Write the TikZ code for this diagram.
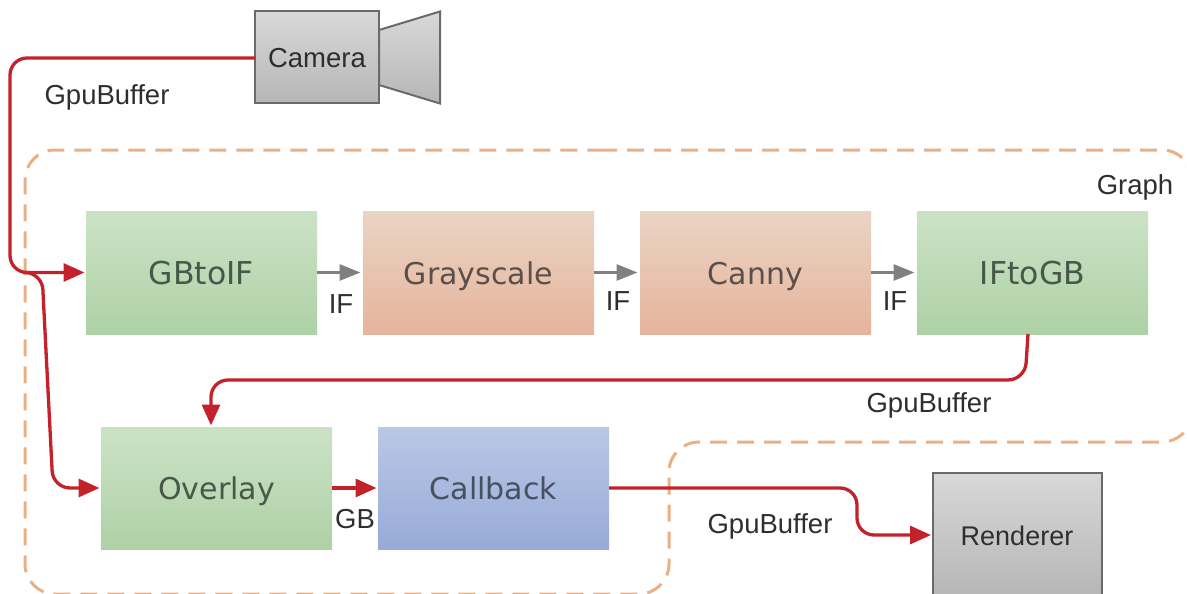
\documentclass[tikz,border=0pt]{standalone}
\usepackage{fontspec}
\usetikzlibrary{arrows.meta}
\setmainfont{Liberation Sans}
\newfontfamily\boxfont{DejaVu Sans}
\definecolor{redline}{HTML}{C4222B}
\definecolor{grayline}{HTML}{808080}
\definecolor{dashcol}{HTML}{E9B086}
\tikzset{
  x=1pt,y=-1pt,
  every node/.style={inner sep=0pt,outer sep=0pt},
  proc/.style={minimum width=231pt,minimum height=123pt,font=\boxfont\fontsize{30}{34}\selectfont,text height=23pt,text depth=0pt,anchor=center},
  greenbox/.style={proc,top color=green1,bottom color=green2,text=greentext},
  orangebox/.style={proc,top color=orange1,bottom color=orange2,text=orangetext},
  bluebox/.style={proc,top color=blue1,bottom color=blue2,text=bluetext},
  device/.style={draw=devborder,line width=2pt,top color=gray1,bottom color=gray2,text=black!82,text height=20pt,text depth=0pt},
  lab/.style={font=\fontsize{27.5}{30}\selectfont,text=black!82,text height=19pt,text depth=0pt},
  redarrow/.style={draw=redline,line width=3.3pt,rounded corners=17pt,-{Triangle[length=21pt,width=18pt]},shorten >=1.5pt},
  grayarrow/.style={draw=grayline,line width=3pt,-{Triangle[length=21pt,width=16pt]},shorten >=2.5pt},
  graphline/.style={draw=dashcol,line width=3pt,dash pattern=on 17pt off 10pt,rounded corners=30pt}
}
\definecolor{green1}{HTML}{CCE2C6}
\definecolor{green2}{HTML}{AED1A6}
\definecolor{orange1}{HTML}{EAD4C4}
\definecolor{orange2}{HTML}{E6B49C}
\definecolor{blue1}{HTML}{BAC8E6}
\definecolor{blue2}{HTML}{98AAD8}
\definecolor{gray1}{HTML}{D8D8D8}
\definecolor{gray2}{HTML}{B6B6B6}
\definecolor{devborder}{HTML}{6A6A6A}
\definecolor{greentext}{HTML}{47584A}
\definecolor{orangetext}{HTML}{5A4F4B}
\definecolor{bluetext}{HTML}{46505F}
\begin{document}
\begin{tikzpicture}
\useasboundingbox (0,0) rectangle (1187,594);
\clip (0,0) rectangle (1187,594);
% graph outline
\path[graphline] (600,150) -- (1192,150) -- (1192,442) -- (669,442) -- (669,594) -- (25,594) -- (25,150) -- (600,150);
% boxes
\node[greenbox,font=\boxfont\fontsize{31.5}{34}\selectfont] (gbtoif) at (201.5,272.5) {GBtoIF};
\node[orangebox] (gray) at (478.5,272.5) {Grayscale};
\node[orangebox] (canny) at (755.5,272.5) {Canny};
\node[greenbox,font=\boxfont\fontsize{31.5}{34}\selectfont] (iftogb) at (1032.5,272.5) {IFtoGB};
\node[greenbox,minimum height=122pt] (overlay) at (216.5,488) {Overlay};
\node[bluebox,minimum height=122pt] (callback) at (493.5,488) {Callback};
% camera
\path[draw=devborder,line width=2pt,top color=gray1,bottom color=gray2]
  (379,30) -- (440,11.5) -- (440,103.5) -- (379,85) -- cycle;
\node[device,font=\fontsize{27.5}{30}\selectfont,minimum width=124pt,minimum height=92pt] (camera) at (317,57.5) {Camera};
\node[device,font=\fontsize{27}{30}\selectfont,minimum width=169pt,minimum height=124pt] (renderer) at (1017,535) {Renderer};
% waypoints
\coordinate (c1) at (10,58);
\coordinate (c2) at (10,272.5);
\coordinate (junction) at (28,272.5);
\coordinate (b1) at (42,272.5);
\coordinate (b2) at (53,488);
\coordinate (d0) at (1028,334);
\coordinate (d1) at (1025,380);
\coordinate (d2) at (211,380);
\coordinate (e1) at (857,488);
\coordinate (e2) at (857,535);
% connectors
\draw[redarrow] (camera.west |- c1) -- (c1) -- (c2) -- (gbtoif.west);
\draw[redarrow] (junction) -- (b1) -- (b2) -- (overlay.west);
\draw[redarrow] (d0) -- (d1) -- (d2) -- (overlay.north -| d2);
\draw[redarrow] (overlay.east) -- (callback.west);
\draw[redarrow] (callback.east) -- (e1) -- (e2) -- (renderer.west);
\draw[grayarrow] (gbtoif.east) -- (gray.west);
\draw[grayarrow] (gray.east) -- (canny.west);
\draw[grayarrow] (canny.east) -- (iftogb.west);
% labels
\node[lab] (l1) at (107,94.5) {GpuBuffer};
\node[lab] (l2) at (929,402.5) {GpuBuffer};
\node[lab] (l3) at (770,523.5) {GpuBuffer};
\node[lab] (l4) at (341,303.5) {IF};
\node[lab] (l5) at (618,300.5) {IF};
\node[lab] (l6) at (895,300.5) {IF};
\node[lab] (l7) at (355,518.5) {GB};
\node[lab] (l8) at (1135,184.5) {Graph};
\end{tikzpicture}
\end{document}
